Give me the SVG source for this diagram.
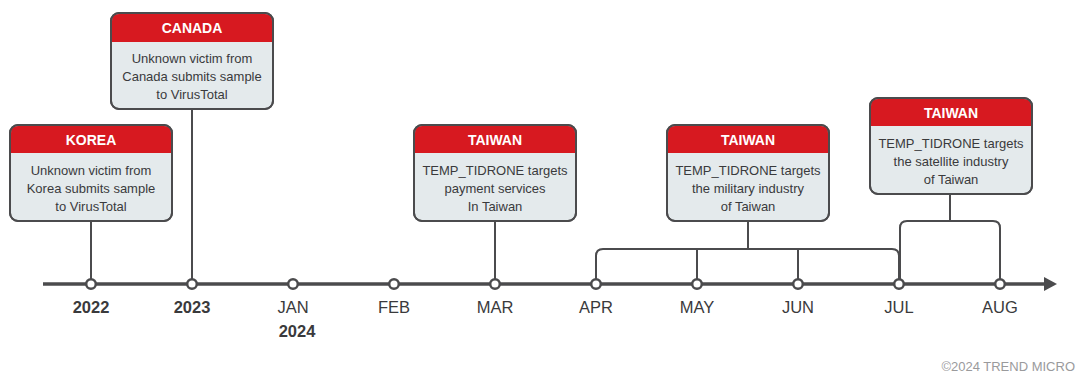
<svg xmlns="http://www.w3.org/2000/svg" width="1077" height="374" viewBox="0 0 1077 374">
<defs>
<style>
.box{fill:#e4eaec;stroke:#4b4b4d;stroke-width:2}
.hdr{fill:#d71920}
.ht{font-family:"Liberation Sans",Arial,sans-serif;font-weight:bold;font-size:14px;fill:#fff;text-anchor:middle}
.bt{font-family:"Liberation Sans",Arial,sans-serif;font-size:13px;fill:#3a3a3c;text-anchor:middle}
.ln{fill:none;stroke:#4b4b4d;stroke-width:2}
.axis{fill:none;stroke:#4b4b4d;stroke-width:3.5}
.dot{fill:#fff;stroke:#4b4b4d;stroke-width:2.5}
.lab{font-family:"Liberation Sans",Arial,sans-serif;font-size:16.5px;fill:#3a3a3c;text-anchor:middle}
.yr{font-weight:bold}
</style>
</defs>
<rect width="1077" height="374" fill="#fff"/>
<g id="connectors">
<line class="axis" x1="43" y1="284" x2="1046" y2="284"/>
<polygon points="1044,277 1057,284 1044,291" fill="#4b4b4d"/>
<line class="ln" x1="91" y1="221" x2="91" y2="284"/>
<line class="ln" x1="192" y1="109" x2="192" y2="284"/>
<line class="ln" x1="495" y1="221" x2="495" y2="284"/>
<line class="ln" x1="748" y1="221" x2="748" y2="249"/>
<path class="ln" d="M596,284 V256 Q596,249 603,249 H892 Q899,249 899,256 V284"/>
<line class="ln" x1="697" y1="249" x2="697" y2="284"/>
<line class="ln" x1="798" y1="249" x2="798" y2="284"/>
<line class="ln" x1="950" y1="194" x2="950" y2="221"/>
<path class="ln" d="M900,284 V228 Q900,221 907,221 H993 Q1000,221 1000,228 V284"/>
</g>
<g id="ticks">
<circle class="dot" cx="91" cy="284" r="4.8"/>
<circle class="dot" cx="192" cy="284" r="4.8"/>
<circle class="dot" cx="293" cy="284" r="4.8"/>
<circle class="dot" cx="394" cy="284" r="4.8"/>
<circle class="dot" cx="495" cy="284" r="4.8"/>
<circle class="dot" cx="596" cy="284" r="4.8"/>
<circle class="dot" cx="697" cy="284" r="4.8"/>
<circle class="dot" cx="798" cy="284" r="4.8"/>
<circle class="dot" cx="899" cy="284" r="4.8"/>
<circle class="dot" cx="1000" cy="284" r="4.8"/>
</g>
<g id="labels">
<text class="lab yr" x="91" y="313">2022</text>
<text class="lab yr" x="192" y="313">2023</text>
<text class="lab" x="293" y="313">JAN</text>
<text class="lab yr" x="297" y="337">2024</text>
<text class="lab" x="394" y="313">FEB</text>
<text class="lab" x="495" y="313">MAR</text>
<text class="lab" x="596" y="313">APR</text>
<text class="lab" x="697" y="313">MAY</text>
<text class="lab" x="798" y="313">JUN</text>
<text class="lab" x="899" y="313">JUL</text>
<text class="lab" x="1000" y="313">AUG</text>
</g>
<g id="node-korea">
<rect class="box" x="10" y="125" width="162" height="96" rx="8"/>
<path class="hdr" d="M18,126 H164 Q171,126 171,133 V153 H11 V133 Q11,126 18,126 Z"/>
<rect class="box" x="10" y="125" width="162" height="96" rx="8" style="fill:none"/>
<text class="ht" x="91" y="145">KOREA</text>
<text class="bt" x="91" y="175">Unknown victim from</text>
<text class="bt" x="91" y="193">Korea submits sample</text>
<text class="bt" x="91" y="211">to VirusTotal</text>
</g>
<g id="node-canada">
<rect class="box" x="111" y="13" width="162" height="96" rx="8"/>
<path class="hdr" d="M119,14 H265 Q272,14 272,21 V42 H112 V21 Q112,14 119,14 Z"/>
<rect class="box" x="111" y="13" width="162" height="96" rx="8" style="fill:none"/>
<text class="ht" x="192" y="33">CANADA</text>
<text class="bt" x="192" y="63">Unknown victim from</text>
<text class="bt" x="192" y="81">Canada submits sample</text>
<text class="bt" x="192" y="99">to VirusTotal</text>
</g>
<g id="node-taiwan-mar">
<rect class="box" x="414" y="125" width="162" height="96" rx="8"/>
<path class="hdr" d="M422,126 H568 Q575,126 575,133 V153 H415 V133 Q415,126 422,126 Z"/>
<rect class="box" x="414" y="125" width="162" height="96" rx="8" style="fill:none"/>
<text class="ht" x="495" y="145">TAIWAN</text>
<text class="bt" x="495" y="175">TEMP_TIDRONE targets</text>
<text class="bt" x="495" y="193">payment services</text>
<text class="bt" x="495" y="211">In Taiwan</text>
</g>
<g id="node-taiwan-military">
<rect class="box" x="667" y="125" width="162" height="96" rx="8"/>
<path class="hdr" d="M675,126 H821 Q828,126 828,133 V153 H668 V133 Q668,126 675,126 Z"/>
<rect class="box" x="667" y="125" width="162" height="96" rx="8" style="fill:none"/>
<text class="ht" x="748" y="145">TAIWAN</text>
<text class="bt" x="748" y="175">TEMP_TIDRONE targets</text>
<text class="bt" x="748" y="193">the military industry</text>
<text class="bt" x="748" y="211">of Taiwan</text>
</g>
<g id="node-taiwan-satellite">
<rect class="box" x="870" y="98" width="162" height="96" rx="8"/>
<path class="hdr" d="M878,99 H1024 Q1031,99 1031,106 V126 H871 V106 Q871,99 878,99 Z"/>
<rect class="box" x="870" y="98" width="162" height="96" rx="8" style="fill:none"/>
<text class="ht" x="951" y="118">TAIWAN</text>
<text class="bt" x="951" y="148">TEMP_TIDRONE targets</text>
<text class="bt" x="951" y="166">the satellite industry</text>
<text class="bt" x="951" y="184">of Taiwan</text>
</g>
<text x="1075" y="371" font-family="Liberation Sans,Arial,sans-serif" font-size="13" fill="#9a9a9c" text-anchor="end">©2024 TREND MICRO</text>
</svg>
